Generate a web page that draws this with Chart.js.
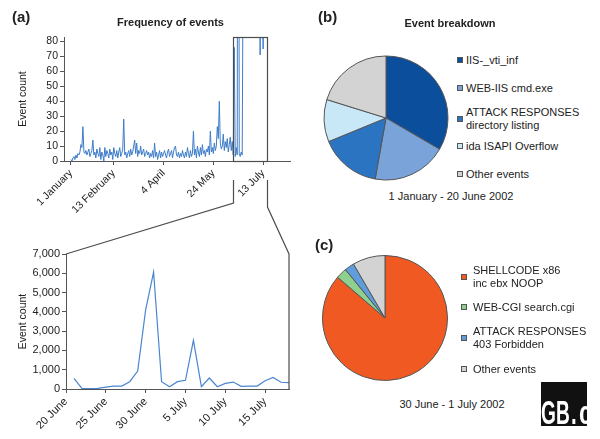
<!DOCTYPE html>
<html><head><meta charset="utf-8">
<script src="https://cdn.jsdelivr.net/npm/chart.js@4.4.0/dist/chart.umd.min.js"></script>
<style>
html,body{margin:0;padding:0;background:#fff;}
#root{position:relative;width:600px;height:439px;overflow:hidden;font-family:"Liberation Sans",Arial,sans-serif;color:#222;}
canvas{position:absolute;}
.c{position:absolute;transform:translate(-50%,-50%);white-space:nowrap;line-height:1;}
.panel{position:absolute;font-weight:bold;font-size:15px;line-height:15px;}
.title{font-weight:bold;font-size:11px;}
.foot{font-size:11px;}
.lg{position:absolute;font-size:11px;line-height:13px;white-space:nowrap;}
.sq{position:absolute;width:6px;height:6px;border:1px solid #555;box-sizing:border-box;}
#logo{position:absolute;left:541px;top:382px;width:46px;height:44px;background:#111;overflow:hidden;}
#logo .t{position:absolute;top:14px;color:#fff;font-size:33px;font-weight:bold;line-height:33px;transform-origin:left top;white-space:nowrap;}
</style></head>
<body><div id="root">
<canvas id="cA" style="left:0;top:0" width="300" height="215"></canvas>
<canvas id="cZ" style="left:0;top:215px" width="300" height="224"></canvas>
<canvas id="cB" style="left:315.5px;top:47.5px" width="140" height="140"></canvas>
<canvas id="cC" style="left:315px;top:248px" width="140" height="140"></canvas>
<canvas id="ov" style="left:0;top:0;z-index:5;pointer-events:none" width="600" height="439"></canvas>

<div class="panel" style="left:12px;top:9px">(a)</div>
<div class="c title" style="left:170.5px;top:22px">Frequency of events</div>
<div class="panel" style="left:318px;top:9px">(b)</div>
<div class="c title" style="left:450px;top:23px">Event breakdown</div>
<div class="c foot" style="left:451px;top:196px">1 January - 20 June 2002</div>
<div class="panel" style="left:315px;top:237px">(c)</div>
<div class="c foot" style="left:452px;top:404px">30 June - 1 July 2002</div>
<div id="legB"></div>
<div id="legC"></div>
<div id="logo"><div class="t" style="left:0;transform:scaleX(0.58)">GB</div><div class="t" style="left:30px;transform:scaleX(0.62)">.</div><div class="t" style="left:38px;transform:scaleX(0.7)">c</div></div>
</div>
<script>
// ---------- data ----------
// Panel (a): daily event counts from 1 January (day 0)
const topCounts = [
  1, 0, 2, 3, 1, 4, 2, 5, 4, 6,
  11, 9, 23, 6, 5, 7, 4, 6, 8, 3,
  5, 7, 14, 4, 6, 2, 8, 5, 3, 9,
  1, 6, 4, 0, 9, 3, 7, 5, 2, 8,
  4, 6, 1, 9, 5, 3, 7, 2, 6, 9,
  3, 5, 8, 28, 4, 6, 2, 5, 7, 3,
  8, 4, 6, 10, 14, 5, 12, 3, 7, 5,
  10, 4, 6, 8, 3, 5, 7, 4, 6, 2,
  5, 3, 7, 2, 12, 3, 6, 1, 4, 7,
  2, 6, 3, 5, 7, 4, 2, 6, 8, 3,
  5, 7, 2, 6, 9, 10, 4, 3, 6, 2,
  5, 3, 7, 4, 2, 6, 3, 9, 5, 2,
  7, 3, 5, 20, 4, 8, 2, 10, 6, 3,
  9, 4, 11, 5, 7, 3, 8, 6, 10, 4,
  20, 6, 9, 5, 12, 7, 10, 23, 15, 40,
  12, 8, 10, 18, 7, 13, 9, 15, 6, 11,
  16, 7, 13, 4, 76, 3, 9, 4, 600, 5, 3, 6, 4,
  150, 120, 200, 300, 380, 930, 4100, 6060, 380, 120, 380, 450, 2520,
  120, 570, 120, 290, 71, 360, 140, 75, 150, 430, 600, 350, 330
];
const topTickDays = [0, 43, 93, 143, 193];
const topTickLabels = ['1 January', '13 February', '4 April', '24 May', '13 July'];
const topYTicks = [0, 10, 20, 30, 40, 50, 60, 70, 80];
const boxDays = [163, 197];

// Zoomed panel: days after 20 June (1 = 21 June)
const zoomCounts = [553, 35, 20, 30, 100, 150, 150, 380, 930, 4100, 6060, 380, 120, 380,
  450, 2520, 120, 570, 120, 290, 360, 140, 150, 150, 430, 600, 350, 330];
const zoomTickDays = [0, 5, 10, 15, 20, 25];
const zoomTickLabels = ['20 June', '25 June', '30 June', '5 July', '10 July', '15 July'];
const zoomYTicks = [0, 1000, 2000, 3000, 4000, 5000, 6000, 7000];

// Panel (b)
const pieBLabels = [['IIS-_vti_inf'], ['WEB-IIS cmd.exe'], ['ATTACK RESPONSES', 'directory listing'], ['ida ISAPI Overflow'], ['Other events']];
const pieBValues = [33.4, 19.4, 16.0, 11.0, 20.2];
const pieBColors = ['#0b4f9c', '#7aa3da', '#2b74c2', '#c9e8f7', '#d3d3d3'];

// Panel (c)
const pieCLabels = [['SHELLCODE x86', 'inc ebx NOOP'], ['WEB-CGI search.cgi'], ['ATTACK RESPONSES', '403 Forbidden'], ['Other events']];
const pieCValues = [86.3, 2.8, 2.5, 8.4];
const pieCColors = ['#f05a22', '#90d08e', '#5f9ddc', '#d3d3d3'];

// ---------- charts ----------
const FONT = '"Liberation Sans", Arial, sans-serif';
function axis(size, extra) {
  const base = {
    grid: {display: true, drawOnChartArea: false, drawTicks: true, tickLength: 4, color: '#555', lineWidth: 1},
    border: {display: true, color: '#555', width: 1},
    ticks: {color: '#222', font: {family: FONT, size: size}, padding: 2, autoSkip: false}
  };
  const out = Object.assign({}, base, extra);
  out.ticks = Object.assign({}, base.ticks, extra.ticks || {});
  return out;
}
const common = {
  responsive: false, animation: false, events: [], devicePixelRatio: 1,
  plugins: {legend: {display: false}, tooltip: {enabled: false}}
};

const chartA = new Chart(document.getElementById('cA'), {
  type: 'line',
  data: {datasets: [{data: topCounts.map((v, i) => ({x: i, y: v})), borderColor: '#3d7cc9', borderWidth: 1,
    pointRadius: 0, tension: 0, fill: false}]},
  options: Object.assign({}, common, {
    layout: {padding: {top: 37, right: 10, left: 0, bottom: 0}},
    scales: {
      x: axis(10.5, {type: 'linear', min: -7, max: 220,
        ticks: {minRotation: 45, maxRotation: 45,
          callback: (v) => { const k = topTickDays.indexOf(v); return k < 0 ? '' : topTickLabels[k]; }},
        afterBuildTicks: (s) => { s.ticks = topTickDays.map(v => ({value: v})); },
        afterFit: (s) => { s.height = 54; }}),
      y: axis(10.5, {min: 0, max: 83,
        afterBuildTicks: (s) => { s.ticks = topYTicks.map(v => ({value: v})); },
        afterFit: (s) => { s.width = 64; },
        title: {display: true, text: 'Event count', color: '#222', font: {family: FONT, size: 10.5}, padding: {top: 17, bottom: 0}}})
    }
  })
});

const chartZ = new Chart(document.getElementById('cZ'), {
  type: 'line',
  data: {datasets: [{data: zoomCounts.map((v, i) => ({x: i + 1, y: v})), borderColor: '#4a86d0', borderWidth: 1.2,
    pointRadius: 0, tension: 0, fill: false}]},
  options: Object.assign({}, common, {
    layout: {padding: {top: 39, right: 11, left: 0, bottom: 0}},
    scales: {
      x: axis(11, {type: 'linear', min: 0, max: 28,
        ticks: {minRotation: 45, maxRotation: 45,
          callback: (v) => { const k = zoomTickDays.indexOf(v); return k < 0 ? '' : zoomTickLabels[k]; }},
        afterBuildTicks: (s) => { s.ticks = zoomTickDays.map(v => ({value: v})); },
        afterFit: (s) => { s.height = 50; }}),
      y: axis(11, {min: 0, max: 7000,
        ticks: {callback: (v) => v.toLocaleString('en-US')},
        afterBuildTicks: (s) => { s.ticks = zoomYTicks.map(v => ({value: v})); },
        afterFit: (s) => { s.width = 66; },
        title: {display: true, text: 'Event count', color: '#222', font: {family: FONT, size: 10.5}, padding: {top: 17, bottom: 0}}})
    }
  })
});

function pie(id, labels, values, colors, pad) {
  return new Chart(document.getElementById(id), {
    type: 'pie',
    data: {labels: labels, datasets: [{data: values, backgroundColor: colors, borderColor: '#555', borderWidth: 1,
      hoverOffset: 0, offset: 0}]},
    options: Object.assign({}, common, {layout: {padding: pad}})
  });
}
pie('cB', pieBLabels, pieBValues, pieBColors, 7.5);
pie('cC', pieCLabels, pieCValues, pieCColors, 7);

// ---------- legends ----------
function legend(hostId, labels, colors, centers, sqLeft, textLeft) {
  const host = document.getElementById(hostId);
  labels.forEach((lines, i) => {
    const cy = centers[i];
    const sq = document.createElement('div');
    sq.className = 'sq';
    sq.style.left = sqLeft + 'px';
    sq.style.top = (cy - 3) + 'px';
    sq.style.background = colors[i];
    host.appendChild(sq);
    const t = document.createElement('div');
    t.className = 'lg';
    t.style.left = textLeft + 'px';
    t.style.top = (cy - lines.length * 13 / 2) + 'px';
    t.innerHTML = lines.join('<br>');
    host.appendChild(t);
  });
}
legend('legB', pieBLabels, pieBColors, [60, 88, 118.5, 146, 174], 457, 466);
legend('legC', pieCLabels, pieCColors, [276.5, 307, 338, 369], 461, 473);

// ---------- zoom box and connectors ----------
const ov = document.getElementById('ov').getContext('2d');
ov.strokeStyle = '#4d4d4d';
ov.lineWidth = 1.2;
const aX = chartA.scales.x, aArea = chartA.chartArea;
const bx1 = Math.round(aX.getPixelForValue(boxDays[0])) + 0.5;
const bx2 = Math.round(aX.getPixelForValue(boxDays[1])) + 0.5;
ov.strokeRect(bx1, Math.round(aArea.top) + 0.5, bx2 - bx1, Math.round(aArea.bottom - aArea.top));
const zA = chartZ.chartArea, oy = 215;
ov.beginPath();
ov.moveTo(bx1, 180); ov.lineTo(bx1, 203); ov.lineTo(zA.left, zA.top + oy);
ov.moveTo(bx2, 180); ov.lineTo(bx2, 207); ov.lineTo(zA.right, zA.top + oy); ov.lineTo(zA.right, zA.bottom + oy);
ov.stroke();
</script>
</body></html>
